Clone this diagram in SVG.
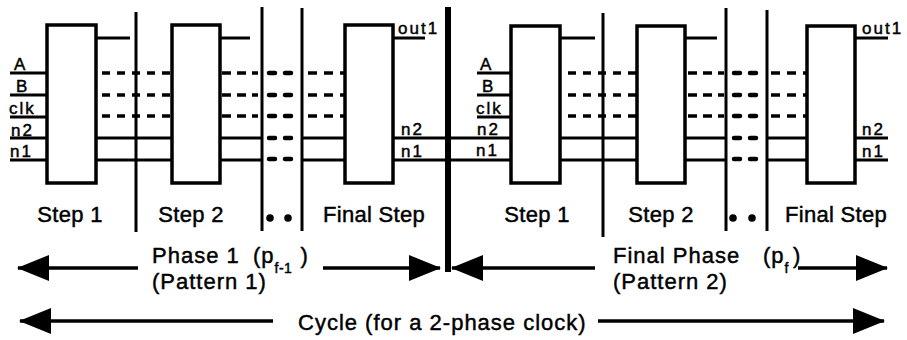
<svg xmlns="http://www.w3.org/2000/svg" width="907" height="340" viewBox="0 0 907 340">
<style>
  .box{fill:#fff;stroke:#000;stroke-width:3.5}
  .w{stroke:#000;stroke-width:3.2;fill:none}
  .dash{stroke:#000;stroke-width:3.5;fill:none;stroke-dasharray:8 7}
  .dot{stroke:#000;stroke-width:4.5;fill:none;stroke-linecap:round}
  .div{stroke:#000;stroke-width:3;fill:none}
  .thick{stroke:#000;stroke-width:6;fill:none}
  text{font-family:"Liberation Sans",Arial,sans-serif;fill:#000;stroke:#000;stroke-width:0.45}
  .sl{font-size:17px;letter-spacing:2px}
  .st{font-size:22px;text-anchor:middle;letter-spacing:0.3px}
  .bt{font-size:22px;letter-spacing:1px}
  .sub{font-size:14px;letter-spacing:0.5px}
  .arr{stroke:#000;stroke-width:3.5;fill:none}
</style>
<defs>
  <marker id="ah" viewBox="0 0 32 26" refX="31" refY="13" markerWidth="32" markerHeight="26" markerUnits="userSpaceOnUse" orient="auto-start-reverse">
    <path d="M0,0 L32,13 L0,26 Z" fill="#000"/>
  </marker>
</defs>
<rect width="907" height="340" fill="#fff"/>

<g id="dividers">
  <line class="div" x1="136" y1="12" x2="136" y2="232"/>
  <line class="div" x1="262" y1="7" x2="262" y2="231"/>
  <line class="div" x1="302" y1="8" x2="302" y2="231"/>
  <line class="div" x1="603" y1="13" x2="603" y2="237"/>
  <line class="div" x1="726" y1="8" x2="726" y2="231"/>
  <line class="div" x1="767" y1="10" x2="767" y2="231"/>
  <line class="thick" x1="448" y1="7" x2="448" y2="272"/>
</g>

<g id="connectors">
  <path class="w" d="M10,73H47M10,95H47M10,117H47M10,138H47M10,160H47"/>
  <path class="w" d="M96,38H130M220,38H250M393,38H425"/>
  <path class="w" d="M96,138H172M96,160H172M220,138H262M220,160H262M302,138H345M302,160H345M393,138H511M393,160H511"/>
  <path class="dash" d="M102,73H172M102,95H172M102,116H172"/>
  <path class="dash" d="M222,73H258M222,95H258M222,116H258" style="stroke-dasharray:9 6"/>
  <path class="dash" d="M308,73H345M308,95H345M308,116H345" style="stroke-dasharray:9 7"/>
  <path class="dot" d="M269,73h6M285,73h6M269,95h6M285,95h6M269,116h6M285,116h6M269,138h6M285,138h6M269,159h6M285,159h6"/>
  <path class="w" d="M477,73H511M477,95H511M477,117H511"/>
  <path class="w" d="M560,38H595M685,38H717M855,38H888"/>
  <path class="w" d="M560,138H637M560,160H637M685,138H726M685,160H726M767,138H807M767,160H807M855,138H888M855,160H888"/>
  <path class="dash" d="M568,73H637M568,95H637M568,116H637"/>
  <path class="dash" d="M688,73H724M688,95H724M688,116H724" style="stroke-dasharray:9 6"/>
  <path class="dash" d="M771,73H807M771,95H807M771,116H807" style="stroke-dasharray:9 7"/>
  <path class="dot" d="M734,73h6M750,73h6M734,95h6M750,95h6M734,116h6M750,116h6M734,138h6M750,138h6M734,159h6M750,159h6"/>
</g>

<g id="p1-step1">
  <rect class="box" x="47" y="25" width="49" height="158"/>
  <text class="sl" x="14" y="70">A</text>
  <text class="sl" x="16" y="92">B</text>
  <text class="sl" x="9" y="114">clk</text>
  <text class="sl" x="11" y="136">n2</text>
  <text class="sl" x="10" y="157">n1</text>
  <text class="st" x="70" y="222">Step 1</text>
</g>
<g id="p1-step2">
  <rect class="box" x="172" y="25" width="48" height="158"/>
  <text class="st" x="191" y="222">Step 2</text>
</g>
<g id="p1-dots">
  <circle cx="270" cy="218" r="3.8"/>
  <circle cx="288" cy="218" r="3.8"/>
</g>
<g id="p1-final">
  <rect class="box" x="345" y="25" width="48" height="158"/>
  <text class="sl" x="398" y="34">out1</text>
  <text class="sl" x="401" y="135">n2</text>
  <text class="sl" x="401" y="157">n1</text>
  <text class="st" x="374" y="222">Final Step</text>
</g>

<g id="p2-step1">
  <rect class="box" x="511" y="26" width="49" height="157"/>
  <text class="sl" x="480" y="70">A</text>
  <text class="sl" x="482" y="92">B</text>
  <text class="sl" x="476" y="114">clk</text>
  <text class="sl" x="477" y="135">n2</text>
  <text class="sl" x="476" y="156">n1</text>
  <text class="st" x="537" y="222">Step 1</text>
</g>
<g id="p2-step2">
  <rect class="box" x="637" y="26" width="48" height="157"/>
  <text class="st" x="661" y="222">Step 2</text>
</g>
<g id="p2-dots">
  <circle cx="733" cy="218" r="3.8"/>
  <circle cx="752" cy="218" r="3.8"/>
</g>
<g id="p2-final">
  <rect class="box" x="807" y="26" width="48" height="157"/>
  <text class="sl" x="862" y="34">out1</text>
  <text class="sl" x="862" y="135">n2</text>
  <text class="sl" x="862" y="157">n1</text>
  <text class="st" x="836" y="222">Final Step</text>
</g>

<g id="phase-arrows">
  <line class="arr" x1="18" y1="268" x2="138" y2="268" marker-start="url(#ah)"/>
  <line class="arr" x1="323" y1="268" x2="440" y2="268" marker-end="url(#ah)"/>
  <text class="bt" x="152" y="263">Phase 1</text>
  <text class="bt" x="253" y="263">(p<tspan class="sub" dy="10">f-1</tspan><tspan dy="-10" dx="8">)</tspan></text>
  <text class="bt" x="152" y="289">(Pattern 1)</text>

  <line class="arr" x1="452" y1="268" x2="595" y2="268" marker-start="url(#ah)"/>
  <line class="arr" x1="798" y1="268" x2="887" y2="268" marker-end="url(#ah)"/>
  <text class="bt" x="613" y="263">Final Phase</text>
  <text class="bt" x="763" y="263">(p<tspan class="sub" dy="10">f</tspan><tspan dy="-10" dx="4">)</tspan></text>
  <text class="bt" x="613" y="289">(Pattern 2)</text>

  <line class="arr" x1="20" y1="321" x2="273" y2="321" marker-start="url(#ah)"/>
  <line class="arr" x1="598" y1="321" x2="884" y2="321" marker-end="url(#ah)"/>
  <text class="bt" x="298" y="330">Cycle (for a 2-phase clock)</text>
</g>
</svg>
